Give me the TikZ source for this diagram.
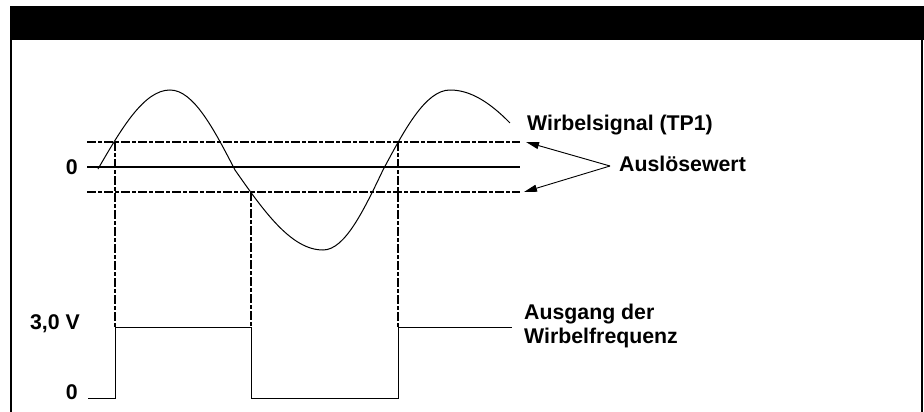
\documentclass[tikz,border=0pt]{standalone}
\usepackage{fontspec}
\setmainfont{Liberation Sans}
\usetikzlibrary{positioning, arrows.meta}

\begin{document}
\begin{tikzpicture}[
  x=1pt, y=-1pt,
  every node/.style={font=\fontsize{21.3}{24}\selectfont\bfseries, inner sep=0pt},
  txt/.style={anchor=base west},
  lvl/.style={anchor=base east},
  trig/.style={line width=2.2pt, dash pattern=on 9pt off 2pt on 4pt off 2pt},
  zeroline/.style={line width=2.8pt},
  wave/.style={line width=1pt},
  arr/.style={-{Triangle[length=13pt, width=7pt]}, line width=0.9pt}
]
\useasboundingbox (0,0) rectangle (924,412);

% frame
\fill (10,6) rectangle (924,40);
\draw[line width=2pt] (11,40) -- (11,412);
\draw[line width=2pt] (922,40) -- (922,412);

% levels of the vortex signal
\coordinate (hiL) at (87,142);  \coordinate (hiR) at (520,142);
\coordinate (zeL) at (87,167);  \coordinate (zeR) at (520,167);
\coordinate (loL) at (87,192);  \coordinate (loR) at (520,192);
\draw[trig] (hiL) -- (hiR);
\draw[zeroline] (zeL) -- (zeR);
\draw[trig] (loL) -- (loR);

% vortex signal
\draw[wave] (98,169) sin (170,90) cos (235,170) sin (323,250)
  cos (383,170) sin (450,90);
\draw[wave] plot[domain=0:60, samples=30] ({450+\x},{170-80*cos(0.9*\x)});

% output of the vortex frequency
\coordinate (q0) at (88,398);
\coordinate (r1) at (115,398);  \coordinate (r1h) at (115,327);
\coordinate (f1h) at (251,327); \coordinate (f1) at (251,398);
\coordinate (r2) at (398,398);  \coordinate (r2h) at (398,327);
\coordinate (qe) at (512,327);
\draw[wave] (q0) -- (r1) -- (r1h) -- (f1h) -- (f1) -- (r2) -- (r2h) -- (qe);

% trigger points
\coordinate (t1) at (115,142);
\coordinate (t2) at (251,192);
\coordinate (t3) at (398,142);
\draw[trig] (t1) -- (r1h);
\draw[trig] (t2) -- (f1h);
\draw[trig] (t3) -- (r2h);

% labels
\node[lvl] (z1) at (78,174) {0};
\node[lvl] (v3) at (80,329) {3,0 V};
\node[lvl] (z2) at (78,399) {0};

\node[txt] (sig) at (527,130) {Wirbelsignal (TP1)};
\node[txt] (ausl) at (619,171) {Auslösewert};
\node[txt] (ausg) at (524,319) {Ausgang der};
\node[txt, below=24pt of ausg.base west, anchor=base west] (freq) {Wirbelfrequenz};

% arrows to trigger levels
\coordinate (j) at (610,166);
\coordinate (ahi) at (526,142);
\coordinate (alo) at (524,192);
\draw[arr] (j) -- (ahi);
\draw[arr] (j) -- (alo);
\end{tikzpicture}
\end{document}
